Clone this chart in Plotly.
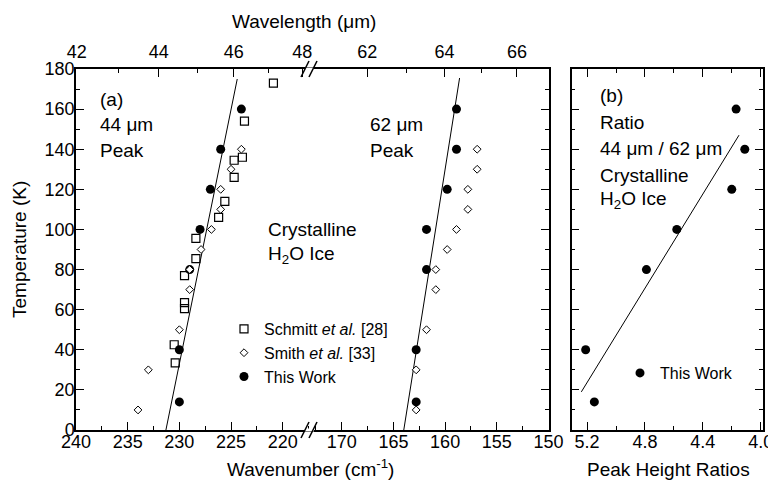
import plotly.graph_objects as go

# ---- panel (a), 44 um peak (wavenumber, cm-1) ----
schmitt_T = [173, 154, 136, 134.5, 126, 114, 106, 95.5, 85.5, 77, 63.5, 60.5, 42.5, 33.5]
schmitt_wn = [220.9, 223.7, 223.9, 224.7, 224.7, 225.6, 226.2, 228.4, 228.4, 229.5, 229.5, 229.5, 230.5, 230.4]

smith44_T = [10, 30, 50, 70, 80, 90, 100, 110, 120, 130, 140]
smith44_wn = [234.0, 233.0, 230.0, 229.0, 229.0, 227.9, 226.9, 226.0, 226.0, 225.0, 224.0]

this_T = [14, 40, 80, 100, 120, 140, 160]
this44_wn = [230.0, 230.0, 229.0, 228.0, 227.0, 226.0, 224.0]

fit44_T = [0, 175]
fit44_wn = [231.3, 224.4]

# ---- panel (a), 62 um peak ----
smith62_T = [10, 30, 50, 70, 80, 90, 100, 110, 120, 130, 140]
smith62_wn = [162.8, 162.8, 161.8, 160.9, 160.9, 159.8, 158.9, 157.8, 157.8, 156.9, 156.9]

this62_wn = [162.8, 162.8, 161.8, 161.8, 159.8, 158.9, 158.9]

fit62_T = [0, 175.5]
fit62_wn = [164.0, 158.6]

# ---- panel (b), peak height ratio 44/62 ----
ratio = [5.15, 5.21, 4.79, 4.58, 4.20, 4.11, 4.17]
fitratio_T = [19, 147]
fitratio = [5.24, 4.15]

# top axis tick labels (wavelength, um)
wl_left = [42, 44, 46, 48]
wl_left_minor = [43, 45, 47]
wl_right = [62, 64, 66]
wl_right_minor = [63, 65]

# ---- geometry (window pixels -> paper) ----
# the page body has an 8px margin, so the figure is made that much smaller
OFF = 8
W, H = 776 - OFF, 481 - OFF
X0, X1, Y0, Y1 = 76, 763, 69, 430          # plot frame in window pixels
ML, MR, MT, MB = X0 - OFF, 776 - X1, Y0 - OFF, 481 - Y1
PW, PH = X1 - X0, Y1 - Y0


def fx(p):
    return (p - X0) / PW


def fy(p):
    return (Y1 - p) / PH


d1 = fx(310)
d2 = fx(548.5)
d3 = fx(571.5)

FONT = "Liberation Sans, Arial, sans-serif"
BLK = "black"

fig = go.Figure()

sq = dict(symbol="square-open", size=8, color=BLK, line=dict(width=1.2, color=BLK))
dm = dict(symbol="diamond", size=6, color="white", line=dict(width=1, color=BLK))
dot = dict(symbol="circle", size=9, color=BLK)

# fit lines
fig.add_trace(go.Scatter(x=fit44_wn, y=fit44_T, mode="lines", line=dict(color=BLK, width=1),
                         showlegend=False, xaxis="x", yaxis="y"))
fig.add_trace(go.Scatter(x=fit62_wn, y=fit62_T, mode="lines", line=dict(color=BLK, width=1),
                         showlegend=False, xaxis="x2", yaxis="y2"))

fig.add_trace(go.Scatter(x=schmitt_wn, y=schmitt_T, mode="markers", marker=sq,
                         name="Schmitt <i>et al.</i> [28]", legendrank=1,
                         xaxis="x", yaxis="y"))
fig.add_trace(go.Scatter(x=this44_wn, y=this_T, mode="markers", marker=dot,
                         name="This Work", legendgroup="tw", legendrank=3,
                         xaxis="x", yaxis="y"))
fig.add_trace(go.Scatter(x=this62_wn, y=this_T, mode="markers", marker=dot,
                         name="This Work", legendgroup="tw", showlegend=False,
                         xaxis="x2", yaxis="y2"))
fig.add_trace(go.Scatter(x=smith44_wn, y=smith44_T, mode="markers", marker=dm,
                         name="Smith <i>et al.</i> [33]", legendgroup="sm", legendrank=2,
                         xaxis="x", yaxis="y"))
fig.add_trace(go.Scatter(x=smith62_wn, y=smith62_T, mode="markers", marker=dm,
                         name="Smith <i>et al.</i> [33]", legendgroup="sm", showlegend=False,
                         xaxis="x2", yaxis="y2"))

# panel (b)
fig.add_trace(go.Scatter(x=fitratio, y=fitratio_T, mode="lines", line=dict(color=BLK, width=1),
                         showlegend=False, xaxis="x5", yaxis="y3"))
fig.add_trace(go.Scatter(x=ratio, y=this_T, mode="markers", marker=dot, name="This Work",
                         legend="legend2", xaxis="x5", yaxis="y3"))

# dummy traces so the top wavelength axes render
fig.add_trace(go.Scatter(x=[None], y=[None], showlegend=False, hoverinfo="skip",
                         xaxis="x3", yaxis="y"))
fig.add_trace(go.Scatter(x=[None], y=[None], showlegend=False, hoverinfo="skip",
                         xaxis="x4", yaxis="y2"))

tickfont = dict(family=FONT, size=18, color=BLK)
common = dict(showline=True, linecolor=BLK, linewidth=1.5, ticks="inside", ticklen=8,
              tickwidth=1.2, tickcolor=BLK, showgrid=False, zeroline=False,
              tickfont=tickfont, automargin=False)
xbot = dict(ticklabelstandoff=-5, **common)
xtop = dict(ticklabelstandoff=2, **common)
minor_common = dict(ticks="inside", ticklen=4, tickwidth=1.2, tickcolor=BLK, showgrid=False)

fig.update_layout(
    width=W, height=H,
    margin=dict(l=ML, r=MR, t=MT, b=MB, autoexpand=False),
    paper_bgcolor="white", plot_bgcolor="white",
    font=dict(family=FONT, color=BLK),
    xaxis=dict(domain=[0, d1], range=[240, 217.36], dtick=5, tick0=0, anchor="y",
               minor=dict(dtick=2.5, **minor_common), **xbot),
    xaxis2=dict(domain=[d1, d2], range=[173.07, 150], dtick=5, tick0=0, anchor="y2",
                minor=dict(dtick=2.5, **minor_common), **xbot),
    xaxis3=dict(overlaying="x", side="top", anchor="y", range=[23.819, 20.732],
                tickmode="array", tickvals=[1000 / v for v in wl_left],
                ticktext=[str(v) for v in wl_left],
                minor=dict(tickmode="array", tickvals=[1000 / v for v in wl_left_minor],
                           **minor_common), **xtop),
    xaxis4=dict(overlaying="x2", side="top", anchor="y2", range=[16.504, 14.945],
                tickmode="array", tickvals=[1000 / v for v in wl_right],
                ticktext=[str(v) for v in wl_right],
                minor=dict(tickmode="array", tickvals=[1000 / v for v in wl_right_minor],
                           **minor_common), **xtop),
    xaxis5=dict(domain=[d3, 1], range=[5.308, 3.984], dtick=0.4, tick0=0, tickformat=".1f",
                anchor="y3", mirror="ticks",
                minor=dict(dtick=0.2, **minor_common), **xbot),
    yaxis=dict(domain=[0, 1], range=[0, 180], dtick=20, anchor="x",
               minor=dict(dtick=10, **minor_common), ticklabelstandoff=-4, **common),
    yaxis2=dict(domain=[0, 1], range=[0, 180], dtick=20, anchor="x2", side="right",
                showticklabels=False, minor=dict(dtick=10, **minor_common), **common),
    yaxis3=dict(domain=[0, 1], range=[0, 180], dtick=20, anchor="x5", mirror="ticks",
                showticklabels=False, minor=dict(dtick=10, **minor_common), **common),
    legend=dict(x=fx(224), y=fy(312), xanchor="left", yanchor="top",
                font=dict(family=FONT, size=16, color=BLK), bgcolor="rgba(0,0,0,0)",
                itemwidth=30, tracegroupgap=0),
    legend2=dict(x=fx(620), y=fy(356), xanchor="left", yanchor="top",
                 font=dict(family=FONT, size=16, color=BLK), bgcolor="rgba(0,0,0,0)",
                 itemwidth=30),
    showlegend=True,
)

# axis break marks
shapes = []
for yb in (Y0, Y1):
    shapes.append(dict(type="rect", xref="paper", yref="paper",
                       x0=fx(305), x1=fx(314), y0=fy(yb + 1.5), y1=fy(yb - 1.5),
                       fillcolor="white", line=dict(width=0), layer="above"))
    for xc in (305, 313):
        shapes.append(dict(type="line", xref="paper", yref="paper",
                           x0=fx(xc - 4), y0=fy(yb + 8), x1=fx(xc + 4), y1=fy(yb - 8),
                           line=dict(color=BLK, width=1.5), layer="above"))
fig.update_layout(shapes=shapes)

# text labels
ann_font = dict(family=FONT, size=19, color=BLK)
labels = [
    ("(a)", 98, 99), ("44 μm", 98, 125), ("Peak", 98, 150),
    ("62 μm", 368, 125), ("Peak", 368, 150),
    ("Crystalline", 266, 229), ("H<sub>2</sub>O Ice", 266, 255),
    ("(b)", 598, 96), ("Ratio", 598, 122), ("44 μm / 62 μm", 598, 148),
    ("Crystalline", 598, 175), ("H<sub>2</sub>O Ice", 598, 200),
]
for txt, x, y in labels:
    fig.add_annotation(text=txt, x=fx(x), y=fy(y), xref="paper", yref="paper",
                       xanchor="left", yanchor="middle", showarrow=False, font=ann_font)

titles = [
    ("Wavelength (μm)", 304, 22, 0),
    ("Wavenumber (cm<sup>-1</sup>)", 310, 468, 0),
    ("Peak Height Ratios", 668, 469, 0),
    ("Temperature (K)", 19, 250, -90),
]
for txt, x, y, ang in titles:
    fig.add_annotation(text=txt, x=fx(x), y=fy(y), xref="paper", yref="paper",
                       xanchor="center", yanchor="middle", showarrow=False,
                       textangle=ang, font=ann_font)

fig.write_html("out.html")
